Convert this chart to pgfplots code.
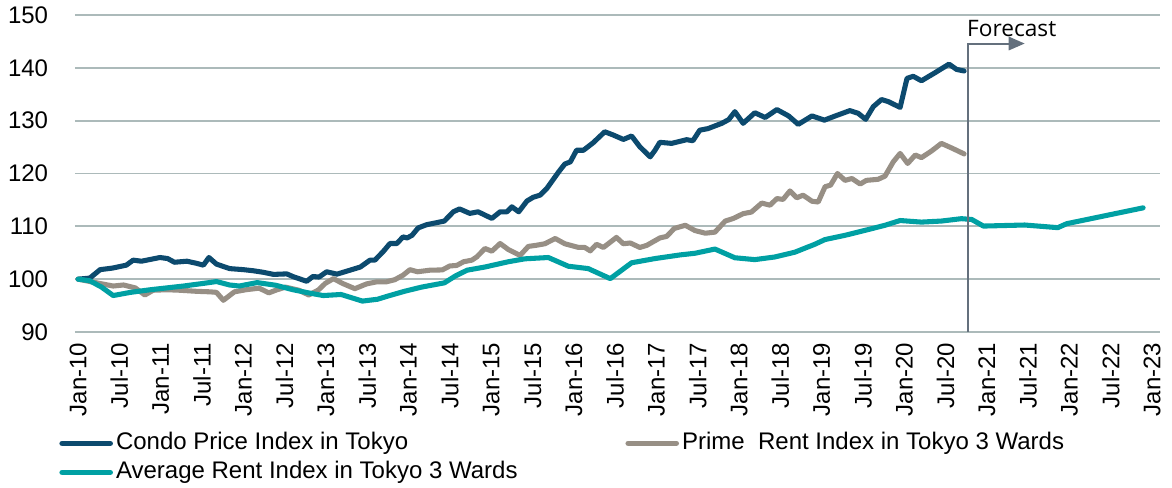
\documentclass[border=0pt]{standalone}
\usepackage{pgfplots}
\pgfplotsset{compat=1.18}
\usetikzlibrary{arrows.meta}
\usepackage{fontspec}
\setmainfont{Liberation Sans}
\newfontfamily\fcfont{Open Sans}
\definecolor{condo}{RGB}{12,74,110}
\definecolor{prime}{RGB}{151,143,133}
\definecolor{avgrent}{RGB}{0,160,163}
\definecolor{gridc}{RGB}{172,186,186}
\definecolor{fcline}{RGB}{100,112,125}
\begin{document}
\begin{tikzpicture}
\path[use as bounding box] (-56.25pt,-117pt) rectangle (822.75pt,249pt);
\begin{axis}[
  at={(0pt,0pt)}, anchor=south west,
  scale only axis, width=813.75pt, height=237.75pt,
  xmin=-0.45, xmax=157.15, ymin=90, ymax=150,
  clip=false,
  axis line style={draw=none},
  tick style={draw=none},
  ymajorgrids, major grid style={gridc, line width=1.3pt},
  ytick={90,100,...,150},
  xtick={0,6,...,156},
  xticklabels={Jan-10,Jul-10,Jan-11,Jul-11,Jan-12,Jul-12,Jan-13,Jul-13,Jan-14,Jul-14,Jan-15,Jul-15,Jan-16,Jul-16,Jan-17,Jul-17,Jan-18,Jul-18,Jan-19,Jul-19,Jan-20,Jul-20,Jan-21,Jul-21,Jan-22,Jul-22,Jan-23},
  /pgf/number format/assume math mode=true,
  ticklabel style={font=\fontsize{18}{21}\selectfont},
  xticklabel style={rotate=90, anchor=east, inner sep=8pt},
  yticklabel style={anchor=east, inner sep=0pt, xshift=-20pt},
  legend columns=2,
  legend style={draw=none, fill=none, at={(-0.0166,-0.3155)}, anchor=north west,
    inner sep=0pt, outer sep=0pt, column sep=0pt, row sep=4.75pt,
    nodes={inner sep=0pt, text height=13pt, text depth=4pt, anchor=west},
    font=\fontsize{18}{21}\selectfont},
  legend image code/.code={\draw[#1, line width=4.2pt, line cap=round] (2pt,0pt) -- (38pt,0pt); \path (0pt,0pt) (40.5pt,0pt);},
  every axis plot/.append style={line width=3.8pt, line join=round, line cap=round},
]
\addplot[condo] coordinates {
(0,100) (1.7,100.2) (3.2,101.8) (5,102.1) (7,102.65) (8,103.6) (9.2,103.4) (11.9,104.1) (13,103.9) (14,103.2)
(15.8,103.4) (17.2,103.0) (18.2,102.65) (19,104.1) (20.1,102.85) (22,102.0) (24,101.8) (25.4,101.6) (26.9,101.3)
(28.4,100.9) (30.3,101.0) (31.3,100.45) (33.2,99.6) (34.1,100.5) (35,100.4) (36.1,101.4) (37.6,100.95) (39.5,101.7)
(41,102.3) (42.4,103.6) (43.1,103.6) (44.3,105.2) (45.3,106.75) (46.3,106.75) (47.2,108.0) (47.8,107.8) (48.5,108.3)
(49.4,109.7) (50.6,110.3) (52.1,110.7) (53.2,111.0) (54.5,112.75) (55.4,113.3) (56.9,112.45) (58.1,112.75) (60.1,111.5)
(61.3,112.75) (62.3,112.75) (63,113.7) (64,112.75) (65.2,114.8) (66.1,115.5) (67.1,115.9) (68.1,117.2) (69.8,120.3)
(70.7,121.8) (71.5,122.2) (72.4,124.4) (73.4,124.4) (74.8,125.8) (76.5,127.9) (77.7,127.3) (79.2,126.45) (80.4,127.1)
(81.6,125.05) (83.1,123.15) (83.8,124.4) (84.5,125.9) (86.2,125.7) (88.4,126.4) (89.3,126.2) (90.3,128.2) (91.5,128.5)
(93.5,129.5) (94.5,130.2) (95.4,131.7) (96.6,129.5) (98.3,131.5) (99.8,130.6) (101.5,132.1) (103.2,130.9) (104.6,129.3)
(106.6,130.9) (108.4,130.1) (110,130.9) (112.1,131.9) (113.3,131.4) (114.4,130.25) (115.5,132.65) (116.7,134.0)
(117.7,133.6) (119.4,132.5) (120.4,138.0) (121.3,138.4) (122.5,137.55) (124.5,139.1) (126.5,140.7) (127.6,139.7) (128.7,139.4)
};
\addlegendentry{\makebox[380.25pt][l]{Condo Price Index in Tokyo}}
\addplot[prime] coordinates {
(0,100) (2.7,99.3) (3.9,99.0) (5.1,98.7) (6.6,98.9) (8.3,98.35) (9.7,97.0) (10.9,97.9) (12.9,98.0) (14.8,97.9)
(17.2,97.7) (19.2,97.6) (20.1,97.5) (21.1,96.0) (22.7,97.6) (24.4,98.0) (26.3,98.3) (27.7,97.4) (28.7,97.9) (30.1,98.5)
(32.1,97.9) (33.5,97.0) (34.9,97.95) (35.9,99.2) (37.1,100.1) (38.4,99.2) (40.2,98.2) (41.9,99.1) (43.4,99.5) (44.8,99.5)
(46,99.9) (47.2,100.75) (48.2,101.8) (49.3,101.4) (51.1,101.7) (52.9,101.75) (54,102.5) (55,102.6) (56,103.3) (57.2,103.6)
(57.9,104.2) (59.1,105.8) (60.1,105.3) (61.3,106.75) (62.5,105.6) (64.2,104.5) (65.4,106.2) (66.5,106.4) (67.8,106.7)
(69.3,107.7) (70.7,106.7) (72.7,106.0) (73.6,106.0) (74.4,105.35) (75.3,106.6) (76.3,106.0) (78.2,107.9) (79.2,106.7)
(80.2,106.85) (81.6,106.0) (82.6,106.4) (84.5,107.8) (85.5,108.1) (86.6,109.6) (88.2,110.2) (89.6,109.2) (91.1,108.7)
(92.5,108.9) (94,111.0) (95.2,111.5) (96.6,112.4) (97.8,112.7) (99.3,114.4) (100.5,114.0) (101.5,115.25) (102.4,115.1)
(103.4,116.7) (104.4,115.4) (105.3,115.9) (106.6,114.75) (107.5,114.6) (108.5,117.5) (109.3,117.8) (110.3,120.0)
(111.4,118.7) (112.4,119.05) (113.6,118.0) (114.5,118.7) (116.2,118.9) (117.2,119.5) (118.4,122.2) (119.4,123.8)
(120.5,121.9) (121.6,123.5) (122.5,123.0) (124,124.3) (125.4,125.7) (127.1,124.7) (128.7,123.7)
};
\addlegendentry{Prime~ Rent Index in Tokyo 3 Wards}
\addplot[avgrent] coordinates {
(0,100) (1.7,99.7) (3.4,98.5) (5.1,96.9) (7.6,97.5) (10.5,98.0) (12.9,98.35) (15.3,98.7) (18.2,99.2) (20.1,99.55)
(22,98.9) (23.4,98.7) (26,99.35) (28.7,98.85) (31.2,98.0) (33.9,97.3) (35.6,96.9) (38.2,97.1) (41.3,95.85) (43.5,96.2)
(45,96.8) (47.4,97.7) (49.9,98.5) (53.2,99.3) (54.8,100.6) (56.5,101.7) (59.1,102.3) (62.5,103.3) (64.9,103.85)
(68.3,104.1) (71.2,102.45) (74.1,102.0) (77.3,100.1) (80.4,103.1) (83.8,103.9) (87.5,104.6) (89.6,104.9) (92.5,105.7)
(95.4,104.05) (98.3,103.7) (101.2,104.2) (104.1,105.1) (107,106.6) (108.5,107.5) (111.4,108.3) (114.8,109.4)
(117.2,110.2) (119.4,111.1) (122.5,110.8) (125.4,111.0) (128.3,111.45) (129.8,111.3) (131.5,110.05) (137.5,110.25)
(142.3,109.75) (143.6,110.5) (154.7,113.5)
};
\addlegendentry{\makebox[380.25pt][l]{Average Rent Index in Tokyo 3 Wards}}
\draw[fcline, line width=1.5pt, -{Triangle[length=12pt,width=10pt]}]
  (axis cs:129.3,90) -- (axis cs:129.3,144.6) -- (axis cs:137.5,144.6);
\node[anchor=base west, inner sep=0pt, font=\fcfont\fontsize{17}{20}\selectfont]
  at (axis cs:129.1,145.9) {Forecast};
\end{axis}
\end{tikzpicture}
\end{document}
